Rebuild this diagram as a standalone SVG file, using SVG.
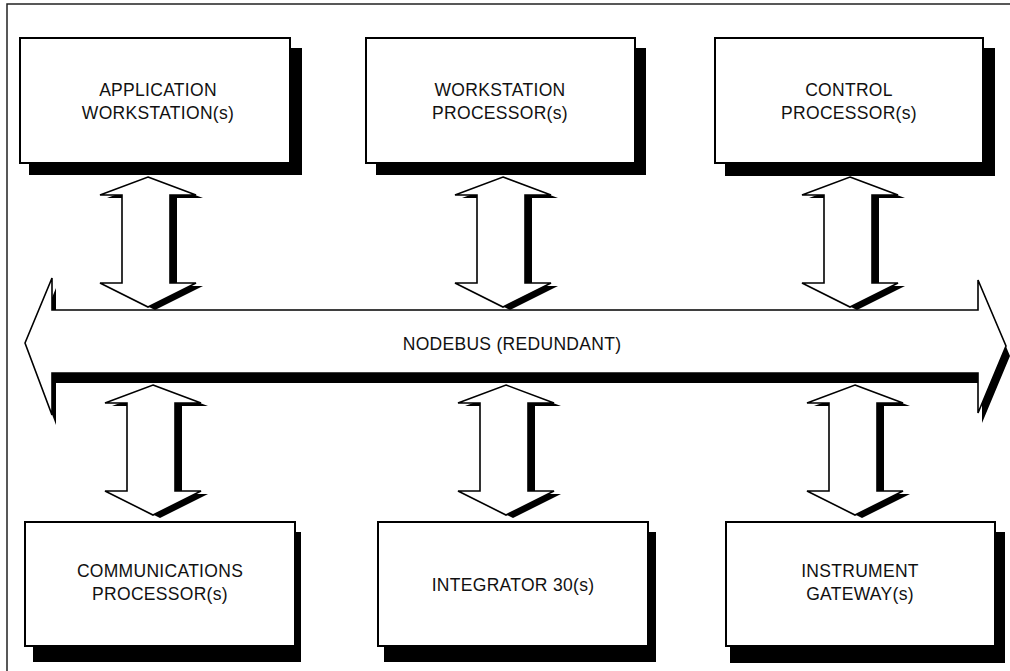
<svg xmlns="http://www.w3.org/2000/svg" xmlns:xlink="http://www.w3.org/1999/xlink" width="1010" height="671" viewBox="0 0 1010 671">
  <style>
    .frame { stroke: #222; stroke-width: 1.5; fill: none; }
    .box { fill: #fff; stroke: #000; stroke-width: 2; }
    .shadow { fill: #000; stroke: none; }
    .outline { fill: #fff; stroke: #000; stroke-width: 1.6; stroke-linejoin: miter; }
    .label { font-family: "Liberation Sans", Arial, sans-serif; font-size: 17.5px; fill: #111; text-anchor: middle; letter-spacing: 0.3px; }
  </style>
  <defs>
    <!-- hollow double-headed arrow, apex at origin, pointing up and down -->
    <polygon id="darrow" points="0,0 48,18 22,18 22,106 48,106 0,130 -48,106 -26,106 -26,18 -48,18"/>
    <g id="link">
      <use xlink:href="#darrow" class="shadow" transform="translate(7,3)"/>
      <use xlink:href="#darrow" class="outline"/>
    </g>
  </defs>

  <rect width="1010" height="671" fill="#fff"/>

  <!-- page frame -->
  <path class="frame" d="M7,671 V4 H1010"/>

  <!-- upper row -->
  <g id="app-workstation">
    <rect class="shadow" x="29" y="48" width="273" height="127"/>
    <rect class="box" x="20" y="38" width="270" height="125"/>
    <text class="label" x="158" y="96">APPLICATION</text>
    <text class="label" x="158" y="119">WORKSTATION(s)</text>
  </g>
  <g id="workstation-processor">
    <rect class="shadow" x="376" y="48" width="270" height="127"/>
    <rect class="box" x="366" y="38" width="269" height="125"/>
    <text class="label" x="500" y="96">WORKSTATION</text>
    <text class="label" x="500" y="119">PROCESSOR(s)</text>
  </g>
  <g id="control-processor">
    <rect class="shadow" x="725" y="48" width="270" height="128"/>
    <rect class="box" x="715" y="38" width="268" height="125"/>
    <text class="label" x="849" y="96">CONTROL</text>
    <text class="label" x="849" y="119">PROCESSOR(s)</text>
  </g>

  <!-- redundant nodebus -->
  <g id="nodebus">
    <polygon class="shadow" transform="translate(4,10)" points="25,343 52,278 52,310 978,310 978,280 1006,346 978,413 978,373 52,373 52,415"/>
    <polygon class="outline" points="25,343 52,278 52,310 978,310 978,280 1006,346 978,413 978,373 52,373 52,415"/>
    <text class="label" x="512" y="350">NODEBUS (REDUNDANT)</text>
  </g>

  <!-- lower row -->
  <g id="communications-processor">
    <rect class="shadow" x="33" y="532" width="268" height="130"/>
    <rect class="box" x="25" y="522" width="270" height="124"/>
    <text class="label" x="160" y="577">COMMUNICATIONS</text>
    <text class="label" x="160" y="600">PROCESSOR(s)</text>
  </g>
  <g id="integrator-30">
    <rect class="shadow" x="384" y="532" width="272" height="130"/>
    <rect class="box" x="378" y="522" width="270" height="124"/>
    <text class="label" x="513" y="591">INTEGRATOR 30(s)</text>
  </g>
  <g id="instrument-gateway">
    <rect class="shadow" x="730" y="532" width="275" height="131"/>
    <rect class="box" x="726" y="522" width="269" height="124"/>
    <text class="label" x="860" y="577">INSTRUMENT</text>
    <text class="label" x="860" y="600">GATEWAY(s)</text>
  </g>

  <!-- bus links -->
  <g id="connectors">
    <use xlink:href="#link" transform="translate(148,177)"/>
    <use xlink:href="#link" transform="translate(503,177)"/>
    <use xlink:href="#link" transform="translate(850,177)"/>
    <use xlink:href="#link" transform="translate(153,385)"/>
    <use xlink:href="#link" transform="translate(506,385)"/>
    <use xlink:href="#link" transform="translate(855,385)"/>
  </g>
</svg>
